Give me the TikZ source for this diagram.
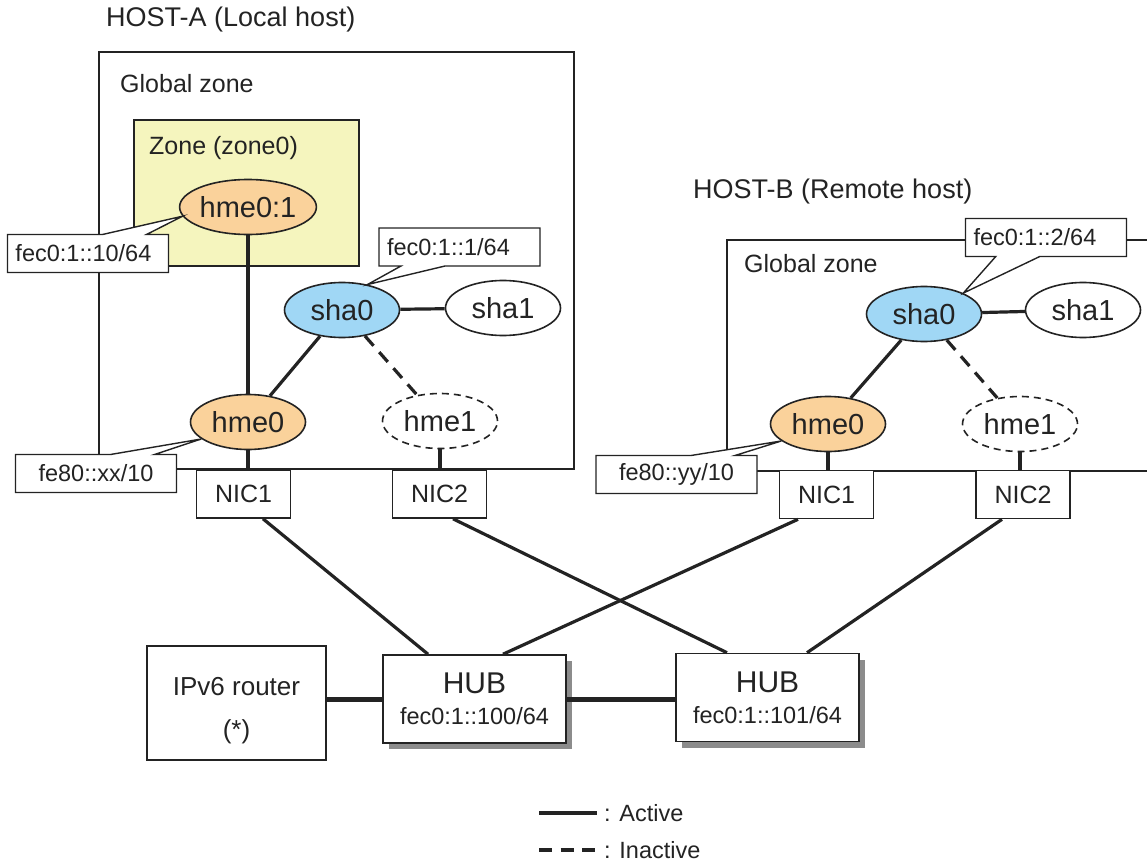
\documentclass[tikz,border=0pt]{standalone}
\usepackage{fontspec}
\setmainfont{Liberation Sans}
\usetikzlibrary{shapes.geometric,shapes.callouts,shadows}
\definecolor{ink}{RGB}{35,35,35}
\definecolor{zonefill}{RGB}{245,245,190}
\definecolor{hmefill}{RGB}{250,210,155}
\definecolor{shafill}{RGB}{160,215,245}
\begin{document}
\begin{tikzpicture}[x=1pt,y=-1pt,
  port/.style={ellipse,draw=ink,text=ink,line width=1.6pt,minimum width=115pt,minimum height=55pt,inner sep=0pt,font=\fontsize{29}{34}\selectfont},
  nicbox/.style={rectangle,draw=ink,fill=white,text=ink,line width=1.6pt,minimum width=94pt,minimum height=48pt,inner sep=0pt,font=\fontsize{25}{30}\selectfont},
  addr/.style={rectangle callout,draw=ink,fill=white,text=ink,line width=1.4pt,callout pointer width=44pt,minimum height=38pt,text width=145pt,inner xsep=8pt,inner ysep=0pt,align=left,font=\fontsize{23.5}{28}\selectfont},
  hubbox/.style={rectangle,draw=ink,fill=white,text=ink,line width=1.6pt,minimum width=183pt,minimum height=88pt,inner sep=0pt,align=center,font=\fontsize{23.5}{31}\selectfont,drop shadow={shadow xshift=6pt,shadow yshift=-6pt,fill=black!45,opacity=1}},
  hosttxt/.style={anchor=west,inner sep=0pt,text=ink,font=\fontsize{27}{32}\selectfont},
  zonetxt/.style={anchor=west,inner sep=0pt,text=ink,font=\fontsize{25}{30}\selectfont},
  legtxt/.style={anchor=west,inner sep=0pt,text=ink,font=\fontsize{23.5}{28}\selectfont},
  link/.style={draw=ink,line width=3.2pt},
  trunk/.style={draw=ink,line width=5pt},
  idle/.style={link,dash pattern=on 13pt off 8.5pt}]
\useasboundingbox (0,0) rectangle (1147,864);

\draw[ink,line width=1.6pt] (99,52) rectangle (574,469);
\draw[ink,line width=1.6pt] (1152,240) -- (727,240) -- (727,471) -- (1152,471);
\filldraw[draw=ink,fill=zonefill,line width=1.6pt] (134,120) rectangle (359,266);

\node[hosttxt] (hostA) at (106,20) {HOST-A (Local host)};
\node[zonetxt] (globA) at (120,84) {Global zone};
\node[zonetxt] (zoneA) at (149,148) {Zone (zone0)};
\node[hosttxt] (hostB) at (693,192) {HOST-B (Remote host)};
\node[zonetxt] (globB) at (744,264) {Global zone};

\node[port,fill=hmefill,minimum width=126pt] (hmezA) at (248,207) {hme0:1};
\node[port,fill=shafill] (shaA) at (342,310) {sha0};
\node[port,fill=white] (shbA) at (503,308) {sha1};
\node[port,fill=hmefill] (hmeA) at (248,422) {hme0};
\node[port,fill=white,dash pattern=on 7pt off 5pt] (hmfA) at (440,421) {hme1};
\node[nicbox] (nicA1) at (243.5,494) {NIC1};
\node[nicbox] (nicA2) at (439.5,494) {NIC2};

\node[port,fill=shafill] (shaB) at (924,314) {sha0};
\node[port,fill=white] (shbB) at (1083,310) {sha1};
\node[port,fill=hmefill] (hmeB) at (828,424) {hme0};
\node[port,fill=white,dash pattern=on 7pt off 5pt] (hmfB) at (1020,424) {hme1};
\node[nicbox] (nicB1) at (826.5,494.5) {NIC1};
\node[nicbox] (nicB2) at (1023,494.5) {NIC2};

\draw[link] (hmezA) -- (hmeA);
\draw[link] (shaA) -- (hmeA);
\draw[idle] (shaA) -- (hmfA);
\draw[link] (shaA) -- (shbA);
\draw[link] (hmeA.south) -- (hmeA.south |- nicA1.north);
\draw[link] (hmfA.south) -- (hmfA.south |- nicA2.north);

\draw[link] (shaB) -- (hmeB);
\draw[idle] (shaB) -- (hmfB);
\draw[link] (shaB) -- (shbB);
\draw[link] (hmeB.south) -- (hmeB.south |- nicB1.north);
\draw[link] (hmfB.south) -- (hmfB.south |- nicB2.north);

\node[addr,callout absolute pointer={(hmezA.188)}] (ipzA) at (88,253.5) {fec0:1::10/64};
\node[addr,callout absolute pointer={(shaA.45)}] (ipsA) at (459.5,247) {fec0:1::1/64};
\node[addr,align=center,callout absolute pointer={(hmeA.200)}] (ipmA) at (96,473.5) {fe80::xx/10};
\node[addr,callout absolute pointer={(shaB.28)}] (ipsB) at (1046,237.5) {fec0:1::2/64};
\node[addr,align=center,callout absolute pointer={(hmeB.200)}] (ipmB) at (676.5,474.5) {fe80::yy/10};

\node[rectangle,draw=ink,fill=white,text=ink,line width=1.6pt,minimum width=179pt,minimum height=114pt,inner sep=0pt,align=center,font=\fontsize{26}{43}\selectfont] (router) at (236.5,703) {\rule{0pt}{33pt}IPv6 router\\(*)};
\node[hubbox] (hubL) at (474.5,699) {{\fontsize{30}{31}\selectfont HUB}\\fec0:1::100/64};
\node[hubbox] (hubR) at (767.5,697.5) {{\fontsize{30}{31}\selectfont HUB}\\fec0:1::101/64};

\draw[link] ([xshift=19.5pt]nicA1.south) -- ([xshift=-46.5pt]hubL.north);
\draw[link] ([xshift=13.5pt]nicA2.south) -- ([xshift=-40.5pt]hubR.north);
\draw[link] ([xshift=-28.5pt]nicB1.south) -- ([xshift=28.5pt]hubL.north);
\draw[link] ([xshift=-21pt]nicB2.south) -- ([xshift=39.5pt]hubR.north);
\draw[trunk] (hubL.west -| router.east) -- (hubL.west);
\draw[trunk] (hubL.east) -- (hubL.east -| hubR.west);

\coordinate (legA1) at (539,813);
\coordinate (legA2) at (597,813);
\draw[link] (legA1) -- (legA2);
\node[legtxt] (legAt) at (604,813) {: Active};
\coordinate (legB1) at (539,850);
\coordinate (legB2) at (597,850);
\draw[idle] (legB1) -- (legB2);
\node[legtxt] (legBt) at (604,850) {: Inactive};
\end{tikzpicture}
\end{document}
